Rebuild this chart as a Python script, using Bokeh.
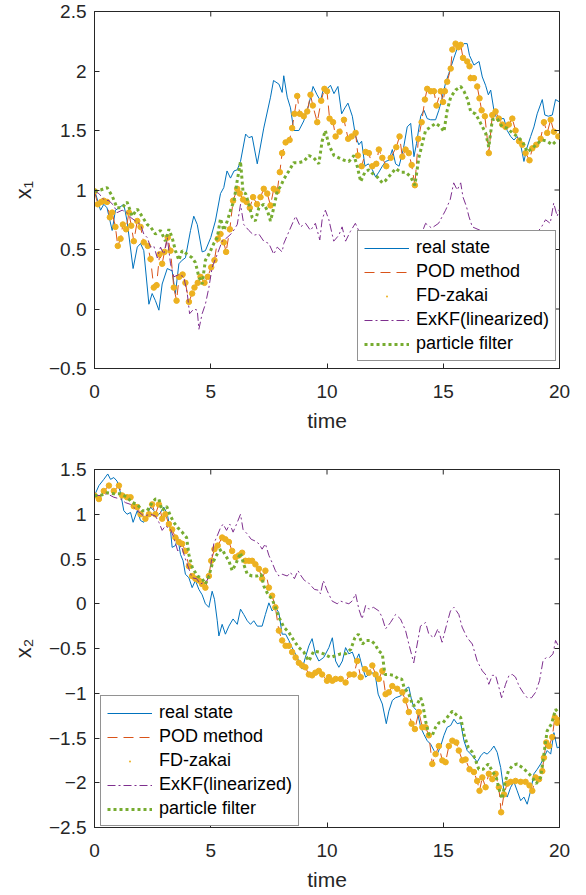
import math
from bokeh.plotting import figure
from bokeh.models import FixedTicker, Legend, LegendItem, Range1d
from bokeh.layouts import column
from bokeh.embed import file_html
from bokeh.resources import INLINE

# ---------------- data (time, value) ----------------
x_ticks = [0, 5, 10, 15, 20]
y1_ticks = [-0.5, 0, 0.5, 1, 1.5, 2, 2.5]
y1_labels = ["\u22120.5", "0", "0.5", "1", "1.5", "2", "2.5"]
y2_ticks = [-2.5, -2, -1.5, -1, -0.5, 0, 0.5, 1, 1.5]
y2_labels = ["\u22122.5", "\u22122", "\u22121.5", "\u22121", "\u22120.5", "0", "0.5", "1", "1.5"]
series_names = ["real state", "POD method", "FD-zakai", "ExKF(linearized)", "particle filter"]

real1 = [(0,1.0),(0.26,0.83),(0.4,0.88),(0.54,0.85),(0.76,0.66),(0.9,0.83),(1.05,0.85),(1.26,0.88),(1.4,0.74),(1.66,0.34),(1.84,0.52),(1.98,0.55),(2.12,0.49),(2.34,0.04),(2.48,0.13),(2.62,0.07),(2.77,-0.01),(2.91,0.21),(3.13,0.34),(3.34,0.32),(3.48,0.13),(3.63,0.38),(3.77,0.41),(3.91,0.43),(4.13,0.66),(4.27,0.78),(4.42,0.71),(4.63,0.48),(4.77,0.49),(5.0,0.60),(5.2,0.74),(5.42,0.97),(5.56,1.02),(5.7,1.16),(5.85,1.10),(6.0,1.16),(6.14,1.17),(6.28,1.24),(6.5,1.47),(6.64,1.44),(6.78,1.45),(7.0,1.22),(7.28,1.52),(7.57,1.78),(7.7,1.92),(7.93,1.89),(8.07,1.82),(8.14,1.96),(8.29,1.78),(8.43,1.69),(8.57,1.50),(8.79,1.50),(9.0,1.58),(9.22,1.72),(9.4,1.87),(9.57,1.80),(9.72,1.75),(9.86,1.86),(10.0,1.85),(10.15,1.88),(10.3,1.81),(10.47,1.87),(10.63,1.64),(10.77,1.69),(10.9,1.73),(11.09,1.62),(11.23,1.45),(11.37,1.38),(11.49,1.41),(11.63,1.20),(11.78,1.22),(11.95,1.17),(12.09,1.11),(12.23,1.15),(12.38,1.20),(12.52,1.24),(12.66,1.25),(12.81,1.34),(12.95,1.22),(13.1,1.20),(13.28,1.34),(13.45,1.53),(13.6,1.56),(13.74,1.28),(13.85,1.39),(14.03,1.62),(14.17,1.67),(14.31,1.60),(14.46,1.59),(14.67,1.59),(14.81,1.67),(14.96,1.78),(15.1,1.90),(15.24,1.98),(15.46,2.11),(15.6,2.19),(15.75,2.20),(15.89,2.23),(16.03,2.23),(16.13,2.13),(16.32,2.05),(16.54,2.08),(16.68,1.95),(16.82,1.88),(16.94,1.80),(17.04,1.84),(17.18,1.67),(17.32,1.59),(17.47,1.60),(17.61,1.60),(17.75,1.50),(17.9,1.45),(18.04,1.42),(18.18,1.45),(18.33,1.38),(18.47,1.24),(18.61,1.36),(18.76,1.45),(18.9,1.53),(19.04,1.64),(19.26,1.76),(19.37,1.63),(19.52,1.62),(19.69,1.63),(19.83,1.76),(20.0,1.74)]

pod1 = [(0,0.99),(0.14,0.88),(0.29,0.90),(0.40,0.91),(0.54,0.90),(0.66,0.77),(0.76,0.81),(0.9,0.69),(1.0,0.53),(1.12,0.59),(1.22,0.71),(1.36,0.67),(1.48,0.81),(1.58,0.70),(1.69,0.57),(1.84,0.74),(1.98,0.69),(2.12,0.56),(2.29,0.53),(2.41,0.42),(2.55,0.18),(2.67,0.20),(2.8,0.46),(2.91,0.38),(3.01,0.48),(3.15,0.60),(3.27,0.49),(3.41,0.18),(3.53,0.07),(3.64,0.27),(3.79,0.29),(3.91,0.22),(4.06,0.06),(4.2,0.13),(4.3,0.18),(4.44,0.22),(4.56,0.27),(4.73,0.22),(4.87,0.27),(5.02,0.35),(5.16,0.41),(5.3,0.59),(5.42,0.63),(5.56,0.56),(5.66,0.48),(5.82,0.67),(5.96,0.91),(6.14,1.01),(6.25,0.97),(6.39,0.92),(6.54,0.90),(6.68,0.85),(6.82,0.94),(6.99,0.88),(7.14,0.94),(7.28,1.01),(7.43,0.97),(7.57,0.87),(7.71,1.01),(7.86,0.99),(7.97,1.15),(8.07,1.31),(8.22,1.40),(8.39,1.42),(8.5,1.52),(8.6,1.64),(8.72,1.79),(8.83,1.64),(9.0,1.62),(9.15,1.66),(9.29,1.80),(9.39,1.71),(9.58,1.57),(9.75,1.75),(9.89,1.85),(10.0,1.83),(10.11,1.60),(10.26,1.57),(10.37,1.45),(10.54,1.49),(10.73,1.59),(10.91,1.43),(11.06,1.45),(11.23,1.48),(11.33,1.29),(11.49,1.20),(11.66,1.32),(11.8,1.31),(11.95,1.20),(12.12,1.22),(12.23,1.34),(12.38,1.27),(12.55,1.20),(12.74,1.27),(12.98,1.36),(13.12,1.45),(13.24,1.28),(13.38,1.34),(13.52,1.31),(13.64,1.21),(13.78,1.04),(13.93,1.43),(14.07,1.57),(14.21,1.76),(14.31,1.85),(14.46,1.83),(14.6,1.83),(14.71,1.71),(14.89,1.83),(14.99,1.74),(15.07,1.83),(15.17,1.91),(15.32,2.02),(15.39,2.18),(15.53,2.23),(15.65,2.20),(15.75,2.22),(15.85,2.11),(16.03,2.08),(16.13,2.04),(16.18,1.94),(16.32,1.94),(16.46,1.87),(16.56,1.77),(16.65,1.67),(16.79,1.62),(16.96,1.31),(17.11,1.63),(17.25,1.66),(17.39,1.60),(17.54,1.55),(17.68,1.53),(17.82,1.55),(17.97,1.60),(18.11,1.50),(18.26,1.41),(18.4,1.38),(18.54,1.31),(18.71,1.25),(18.83,1.35),(19.0,1.38),(19.19,1.43),(19.33,1.57),(19.47,1.48),(19.62,1.59),(19.76,1.49),(19.95,1.45)]

fd1 = pod1  # FD-zakai dots sit on the POD curve in the picture

exkf1 = [(0,0.99),(0.19,0.97),(0.4,0.92),(0.62,0.91),(0.83,0.87),(0.97,0.81),(1.19,0.83),(1.4,0.81),(1.55,0.77),(1.76,0.74),(1.98,0.71),(2.12,0.63),(2.27,0.60),(2.41,0.52),(2.55,0.53),(2.7,0.43),(2.84,0.52),(2.98,0.46),(3.13,0.60),(3.27,0.38),(3.41,0.27),(3.63,0.29),(3.84,0.27),(3.99,0.13),(4.09,-0.04),(4.27,0.0),(4.42,-0.01),(4.49,-0.17),(4.63,-0.04),(4.77,0.04),(4.92,0.18),(5.06,0.35),(5.28,0.46),(5.49,0.57),(5.7,0.60),(5.92,0.64),(6.14,0.71),(6.28,0.88),(6.42,0.71),(6.64,0.66),(6.85,0.62),(7.07,0.63),(7.28,0.57),(7.5,0.55),(7.71,0.46),(7.86,0.52),(8.07,0.48),(8.14,0.55),(8.36,0.65),(8.65,0.78),(8.86,0.69),(9.08,0.72),(9.29,0.66),(9.5,0.72),(9.69,0.58),(9.79,0.75),(9.93,0.83),(10.08,0.75),(10.29,0.57),(10.51,0.62),(10.65,0.69),(10.8,0.57),(11.0,0.65),(11.22,0.72),(11.5,0.60),(12.0,0.55),(12.5,0.60),(13.0,0.55),(13.5,0.62),(14.0,0.60),(14.24,0.72),(14.5,0.68),(14.8,0.72),(15.1,0.83),(15.3,0.92),(15.45,1.06),(15.6,1.0),(15.75,1.06),(15.85,0.94),(16.0,0.86),(16.1,0.78),(16.25,0.69),(16.6,0.66),(16.8,0.60),(17.2,0.55),(17.6,0.50),(18.0,0.55),(18.4,0.50),(18.8,0.60),(19.2,0.68),(19.4,0.75),(19.6,0.72),(19.75,0.89),(19.9,0.78),(20.0,0.84)]

pf1 = [(0,0.99),(0.26,1.0),(0.54,1.02),(0.76,0.95),(0.97,0.85),(1.19,0.85),(1.4,0.90),(1.62,0.78),(1.84,0.84),(2.04,0.78),(2.27,0.71),(2.41,0.69),(2.62,0.63),(2.84,0.66),(3.05,0.57),(3.2,0.67),(3.34,0.60),(3.48,0.49),(3.63,0.41),(3.77,0.49),(3.99,0.46),(4.2,0.43),(4.34,0.39),(4.49,0.27),(4.63,0.21),(4.77,0.41),(4.92,0.46),(5.13,0.55),(5.28,0.60),(5.42,0.76),(5.56,0.66),(5.71,0.74),(5.85,0.83),(6.0,0.91),(6.14,1.08),(6.28,1.24),(6.39,0.98),(6.5,0.97),(6.64,0.88),(6.78,0.77),(6.92,0.74),(7.07,0.85),(7.28,0.88),(7.43,0.83),(7.57,0.74),(7.71,0.85),(7.86,0.99),(8.0,1.03),(8.14,1.09),(8.36,1.16),(8.57,1.23),(8.79,1.23),(9.0,1.24),(9.22,1.29),(9.43,1.27),(9.65,1.22),(9.79,1.41),(9.93,1.50),(10.08,1.38),(10.3,1.29),(10.51,1.27),(10.73,1.25),(10.94,1.24),(11.16,1.29),(11.3,1.20),(11.45,1.07),(11.63,1.15),(11.8,1.17),(11.95,1.14),(12.16,1.11),(12.38,1.06),(12.52,1.08),(12.74,1.13),(12.95,1.18),(13.17,1.15),(13.38,1.15),(13.6,1.11),(13.78,1.04),(13.95,1.27),(14.1,1.39),(14.24,1.50),(14.46,1.53),(14.67,1.56),(14.89,1.53),(15.03,1.49),(15.17,1.67),(15.32,1.78),(15.53,1.84),(15.75,1.87),(15.89,1.83),(16.03,1.77),(16.18,1.66),(16.39,1.64),(16.61,1.56),(16.82,1.48),(16.96,1.36),(17.11,1.59),(17.32,1.60),(17.54,1.53),(17.75,1.52),(17.97,1.48),(18.18,1.45),(18.4,1.41),(18.61,1.32),(18.83,1.35),(19.04,1.39),(19.26,1.42),(19.47,1.41),(19.69,1.38),(19.9,1.42)]

real2 = [(0,1.21),(0.19,1.32),(0.4,1.39),(0.57,1.45),(0.69,1.39),(0.83,1.41),(0.97,1.37),(1.12,1.24),(1.26,1.04),(1.4,1.0),(1.55,1.02),(1.66,0.91),(1.84,1.04),(1.98,0.93),(2.12,0.91),(2.27,1.0),(2.41,1.08),(2.55,1.04),(2.7,0.98),(2.84,1.02),(2.98,1.08),(3.13,1.0),(3.27,0.82),(3.34,0.63),(3.48,0.65),(3.58,0.74),(3.7,0.55),(3.81,0.48),(3.91,0.33),(4.06,0.29),(4.2,0.18),(4.34,0.26),(4.49,0.16),(4.63,0.10),(4.77,0.0),(4.92,-0.04),(5.06,0.14),(5.16,0.05),(5.28,-0.19),(5.35,-0.36),(5.49,-0.23),(5.63,-0.34),(5.78,-0.25),(5.96,-0.17),(6.14,-0.23),(6.28,-0.06),(6.42,-0.12),(6.57,-0.19),(6.71,-0.23),(6.85,-0.19),(7.0,-0.25),(7.21,-0.25),(7.35,-0.12),(7.5,0.01),(7.64,-0.08),(7.78,-0.04),(7.93,-0.10),(8.07,-0.34),(8.22,-0.34),(8.36,-0.41),(8.5,-0.49),(8.72,-0.60),(8.93,-0.73),(9.07,-0.60),(9.22,-0.47),(9.36,-0.39),(9.5,-0.56),(9.65,-0.64),(9.86,-0.60),(10.08,-0.49),(10.23,-0.38),(10.37,-0.64),(10.51,-0.71),(10.66,-0.64),(10.8,-0.49),(10.94,-0.56),(11.09,-0.54),(11.23,-0.64),(11.37,-0.56),(11.52,-0.71),(11.66,-0.82),(11.8,-0.79),(11.95,-0.77),(12.09,-0.82),(12.2,-1.01),(12.38,-1.12),(12.55,-1.34),(12.66,-1.2),(12.81,-1.08),(12.95,-1.05),(13.17,-1.03),(13.38,-0.95),(13.52,-0.93),(13.64,-1.08),(13.74,-1.16),(13.88,-1.2),(14.03,-1.38),(14.17,-1.46),(14.31,-1.53),(14.46,-1.57),(14.6,-1.64),(14.74,-1.68),(14.89,-1.59),(15.03,-1.47),(15.17,-1.38),(15.32,-1.36),(15.46,-1.29),(15.6,-1.34),(15.75,-1.33),(15.89,-1.53),(16.03,-1.64),(16.18,-1.68),(16.32,-1.72),(16.46,-1.77),(16.61,-1.70),(16.75,-1.66),(16.89,-1.68),(17.04,-1.64),(17.18,-1.59),(17.32,-1.66),(17.47,-1.83),(17.61,-2.09),(17.75,-2.16),(17.9,-2.05),(18.04,-1.99),(18.18,-2.09),(18.33,-2.2),(18.47,-2.16),(18.61,-2.24),(18.76,-2.09),(18.9,-1.9),(19.04,-1.85),(19.19,-1.79),(19.33,-1.72),(19.47,-1.64),(19.62,-1.68),(19.76,-1.44),(19.9,-1.61),(20.0,-1.60)]

pod2 = [(0,1.21),(0.19,1.17),(0.4,1.26),(0.62,1.32),(0.83,1.26),(1.05,1.32),(1.19,1.21),(1.4,1.19),(1.55,1.19),(1.69,1.09),(1.84,1.08),(1.98,1.0),(2.19,0.95),(2.34,1.0),(2.48,1.11),(2.62,1.0),(2.77,1.11),(2.91,0.95),(3.05,1.0),(3.2,0.89),(3.34,0.83),(3.48,0.74),(3.63,0.69),(3.77,0.67),(3.91,0.59),(4.06,0.42),(4.2,0.31),(4.34,0.28),(4.49,0.26),(4.63,0.22),(4.77,0.18),(4.92,0.31),(5.02,0.48),(5.16,0.61),(5.3,0.65),(5.49,0.74),(5.63,0.72),(5.78,0.69),(5.92,0.59),(6.07,0.52),(6.21,0.54),(6.35,0.57),(6.49,0.48),(6.64,0.48),(6.78,0.48),(6.92,0.44),(7.07,0.39),(7.21,0.28),(7.35,0.37),(7.5,0.18),(7.64,0.09),(7.78,-0.04),(7.93,-0.30),(8.07,-0.41),(8.22,-0.47),(8.36,-0.47),(8.5,-0.54),(8.65,-0.60),(8.79,-0.66),(8.93,-0.69),(9.07,-0.71),(9.22,-0.79),(9.36,-0.80),(9.5,-0.77),(9.65,-0.75),(9.79,-0.79),(10.0,-0.86),(10.08,-0.82),(10.23,-0.86),(10.37,-0.84),(10.59,-0.84),(10.8,-0.88),(10.97,-0.79),(11.16,-0.79),(11.3,-0.64),(11.45,-0.82),(11.63,-0.73),(11.8,-0.77),(11.95,-0.69),(12.09,-0.79),(12.23,-0.84),(12.38,-0.75),(12.52,-1.01),(12.66,-0.99),(12.81,-0.92),(13.02,-0.95),(13.24,-0.99),(13.38,-1.08),(13.52,-1.21),(13.64,-1.34),(13.78,-1.40),(13.95,-1.21),(14.1,-1.38),(14.24,-1.38),(14.38,-1.47),(14.53,-1.79),(14.67,-1.68),(14.81,-1.59),(14.96,-1.75),(15.1,-1.77),(15.24,-1.59),(15.39,-1.53),(15.56,-1.55),(15.67,-1.64),(15.82,-1.75),(15.96,-1.74),(16.13,-1.85),(16.32,-1.88),(16.46,-1.98),(16.56,-2.09),(16.68,-1.94),(16.82,-2.05),(16.96,-1.90),(17.11,-1.96),(17.25,-1.90),(17.39,-2.05),(17.49,-2.33),(17.61,-2.13),(17.75,-2.01),(17.9,-1.99),(18.11,-1.98),(18.33,-1.99),(18.54,-1.99),(18.71,-2.03),(18.83,-2.09),(18.97,-1.94),(19.12,-1.96),(19.26,-1.87),(19.33,-1.72),(19.43,-1.55),(19.55,-1.59),(19.69,-1.49),(19.8,-1.27),(19.9,-1.33),(20.0,-1.30)]

fd2 = pod2  # FD-zakai dots sit on the POD curve in the picture

exkf2 = [(0,1.21),(0.26,1.21),(0.54,1.23),(0.83,1.19),(1.12,1.17),(1.33,1.13),(1.55,1.11),(1.84,1.04),(2.12,0.98),(2.41,1.0),(2.62,0.98),(2.77,0.91),(2.91,0.82),(3.05,0.87),(3.27,0.83),(3.41,0.74),(3.58,0.59),(3.73,0.65),(3.91,0.50),(4.06,0.39),(4.2,0.29),(4.39,0.28),(4.56,0.22),(4.7,0.24),(4.85,0.26),(4.99,0.41),(5.13,0.67),(5.28,0.76),(5.42,0.85),(5.53,0.89),(5.68,0.82),(5.82,0.89),(5.96,0.80),(6.11,0.89),(6.28,1.0),(6.39,0.83),(6.57,0.78),(6.74,0.72),(6.92,0.70),(7.07,0.67),(7.21,0.61),(7.35,0.67),(7.5,0.54),(7.64,0.46),(7.78,0.37),(7.93,0.31),(8.07,0.33),(8.29,0.31),(8.43,0.35),(8.6,0.28),(8.75,0.37),(8.89,0.31),(9.03,0.26),(9.18,0.24),(9.32,0.20),(9.46,0.16),(9.65,0.15),(9.72,0.11),(9.84,0.26),(10.0,0.15),(10.22,0.03),(10.44,0.0),(10.58,0.03),(10.8,0.01),(10.94,0.0),(11.08,0.03),(11.23,0.11),(11.37,-0.06),(11.51,-0.17),(11.66,-0.02),(11.8,-0.06),(12.0,-0.04),(12.23,-0.08),(12.37,-0.15),(12.52,-0.28),(12.73,-0.21),(12.95,-0.12),(13.16,-0.17),(13.38,-0.30),(13.52,-0.45),(13.73,-0.66),(13.88,-0.45),(14.02,-0.25),(14.24,-0.21),(14.38,-0.34),(14.6,-0.38),(14.77,-0.28),(14.95,-0.43),(15.17,-0.21),(15.31,-0.08),(15.46,-0.04),(15.67,-0.12),(15.81,-0.26),(16.03,-0.38),(16.25,-0.45),(16.46,-0.64),(16.68,-0.75),(16.85,-0.80),(16.96,-0.90),(17.11,-0.80),(17.25,-0.80),(17.39,-0.93),(17.51,-1.05),(17.68,-0.90),(17.83,-0.80),(17.97,-0.79),(18.11,-0.82),(18.26,-0.92),(18.43,-0.99),(18.61,-1.05),(18.8,-1.05),(18.97,-0.99),(19.14,-0.86),(19.29,-0.64),(19.43,-0.60),(19.57,-0.60),(19.72,-0.56),(19.83,-0.41),(19.95,-0.47)]

pf2 = [(0,1.21),(0.26,1.21),(0.54,1.24),(0.83,1.23),(1.12,1.23),(1.4,1.19),(1.62,1.13),(1.84,1.11),(2.05,1.04),(2.27,1.04),(2.48,1.13),(2.62,1.17),(2.77,1.17),(2.91,1.04),(3.1,1.09),(3.27,0.98),(3.41,0.91),(3.58,0.85),(3.77,0.80),(3.96,0.74),(4.06,0.55),(4.2,0.41),(4.42,0.31),(4.63,0.28),(4.77,0.22),(4.92,0.31),(5.06,0.44),(5.2,0.52),(5.35,0.59),(5.49,0.61),(5.63,0.54),(5.78,0.48),(5.92,0.37),(6.07,0.44),(6.28,0.57),(6.42,0.44),(6.57,0.33),(6.78,0.31),(7.0,0.31),(7.17,0.33),(7.28,0.20),(7.45,0.11),(7.64,0.05),(7.78,-0.04),(7.93,-0.15),(8.14,-0.26),(8.36,-0.32),(8.57,-0.41),(8.79,-0.49),(9.0,-0.54),(9.22,-0.64),(9.43,-0.53),(9.65,-0.54),(9.86,-0.56),(10.15,-0.60),(10.37,-0.58),(10.59,-0.56),(10.8,-0.56),(11.02,-0.51),(11.2,-0.38),(11.35,-0.34),(11.52,-0.45),(11.69,-0.41),(11.88,-0.41),(12.06,-0.45),(12.23,-0.53),(12.38,-0.56),(12.49,-0.79),(12.66,-0.79),(12.88,-0.80),(13.07,-0.84),(13.21,-0.84),(13.31,-0.93),(13.52,-1.01),(13.7,-1.14),(13.88,-1.12),(14.03,-1.05),(14.13,-1.14),(14.24,-1.31),(14.38,-1.46),(14.53,-1.47),(14.67,-1.38),(14.81,-1.33),(14.99,-1.33),(15.17,-1.27),(15.39,-1.20),(15.6,-1.25),(15.75,-1.27),(15.89,-1.46),(16.08,-1.61),(16.25,-1.66),(16.39,-1.75),(16.53,-1.85),(16.71,-1.85),(16.94,-1.79),(17.11,-1.87),(17.28,-1.94),(17.42,-2.09),(17.54,-2.18),(17.65,-2.0),(17.8,-1.87),(17.97,-1.81),(18.18,-1.79),(18.4,-1.83),(18.61,-1.88),(18.83,-1.94),(19.0,-2.01),(19.19,-1.94),(19.33,-1.68),(19.47,-1.42),(19.66,-1.34),(19.83,-1.18),(19.9,-1.20)]

# ---------------- styling ----------------
FONT = "Liberation Sans"
AX = "#262626"
C_REAL, C_POD, C_FD, C_EKF, C_PF = "#0072BD", "#D95319", "#EDB120", "#7E2F8E", "#77AC30"


def split(pairs):
    return [a for a, _ in pairs], [b for _, b in pairs]


def style_axis(ax, ticks, labels=None):
    ax.ticker = FixedTicker(ticks=ticks)
    ax.axis_line_color = AX
    ax.major_tick_line_color = AX
    ax.major_tick_in = 5
    ax.major_tick_out = 0
    ax.minor_tick_line_color = None
    ax.major_label_text_font = FONT
    ax.major_label_text_color = AX
    ax.major_label_text_font_size = "19px"
    ax.axis_label_text_font = FONT
    ax.axis_label_text_color = AX
    ax.axis_label_text_font_style = "normal"
    if labels is not None:
        ax.major_label_overrides = {t: s for t, s in zip(ticks, labels)}


def make_panel(ylabel, yr, yticks, ylabels, data, legend_xy, height, top_b, bottom_b):
    p = figure(width=586, height=height, x_range=Range1d(0, 20), y_range=Range1d(*yr),
               output_backend="svg", toolbar_location=None,
               min_border_left=94, min_border_right=27, min_border_top=top_b,
               min_border_bottom=bottom_b)
    p.grid.visible = False
    p.outline_line_color = AX
    p.outline_line_width = 1
    p.background_fill_color = "white"
    p.border_fill_color = "white"

    real, pod, fd, ekf, pf = data
    t, v = split(real)
    r1 = p.line(t, v, line_color=C_REAL, line_width=1)
    t, v = split(pod)
    r2 = p.line(t, v, line_color=C_POD, line_width=1, line_dash="10 6")
    t, v = split(fd)
    # "dot" renderer gives the small legend sample; it is hidden under the circles
    r3 = p.scatter(t, v, marker="dot", size=5, fill_color=C_FD, line_color=C_FD, line_width=3)
    p.scatter(t, v, marker="circle", size=5.5, fill_color=C_FD, line_color=C_FD)
    t, v = split(ekf)
    r4 = p.line(t, v, line_color=C_EKF, line_width=1, line_dash="8 3 2 3")
    t, v = split(pf)
    r5 = p.line(t, v, line_color=C_PF, line_width=3, line_dash="3 3")

    # inward tick marks on the top and right edges of the box (MATLAB style);
    # markers are centred on the edge and clipped by the frame, so 5 px show.
    p.scatter(x_ticks, [yr[1]] * len(x_ticks), marker="dash", size=10,
              angle=math.pi / 2, line_color=AX, line_width=1)
    p.scatter([20] * len(yticks), yticks, marker="dash", size=10,
              line_color=AX, line_width=1)

    style_axis(p.xaxis[0], x_ticks)
    p.xaxis[0].axis_label = "time"
    p.xaxis[0].axis_label_text_font_size = "21px"
    p.xaxis[0].major_label_standoff = 16
    p.xaxis[0].axis_label_standoff = 8
    style_axis(p.yaxis[0], yticks, ylabels)
    p.yaxis[0].axis_label = ylabel
    p.yaxis[0].axis_label_text_font_size = "22px"
    p.yaxis[0].major_label_standoff = 8
    p.yaxis[0].axis_label_standoff = 10

    items = [LegendItem(label=n, renderers=[r]) for n, r in zip(series_names, [r1, r2, r3, r4, r5])]
    leg = Legend(items=items, location=legend_xy)
    leg.label_text_font = FONT
    leg.label_text_font_size = "18px"
    leg.label_text_color = "black"
    leg.glyph_width = 45
    leg.glyph_height = 20
    leg.label_height = 20
    leg.label_standoff = 7
    leg.spacing = 3
    leg.padding = 6
    leg.margin = 0
    leg.border_line_color = AX
    leg.border_line_width = 1
    leg.background_fill_alpha = 1
    p.add_layout(leg, "center")
    return p


p1 = make_panel("x\u2081", (-0.5, 2.5), y1_ticks, y1_labels,
                [real1, pod1, fd1, exkf1, pf1], (263, 7), 440, 11, 72)
p2 = make_panel("x\u2082", (-2.5, 1.5), y2_ticks, y2_labels,
                [real2, pod2, fd2, exkf2, pf2], (6, 1), 455, 29, 68)

layout = column(p1, p2, spacing=0)
open("out.html", "w").write(file_html(layout, INLINE))
